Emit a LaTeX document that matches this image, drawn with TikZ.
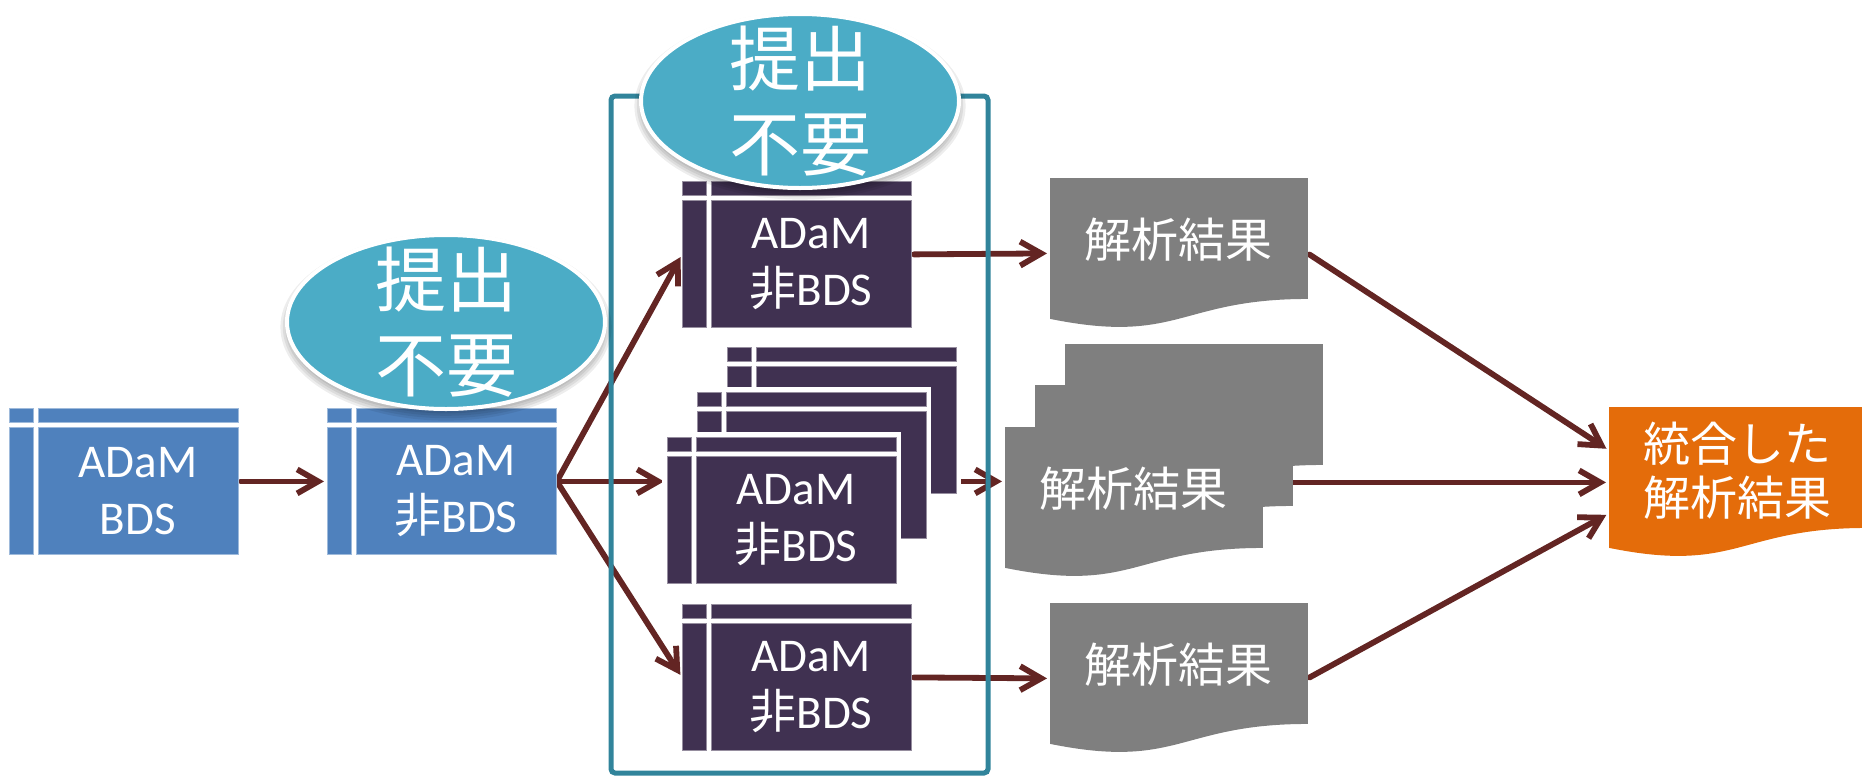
\documentclass[tikz,border=0pt]{standalone}
\usepackage{fontspec}
\setmainfont{Carlito}
\newfontfamily\cjk{Noto Sans CJK JP}
\usetikzlibrary{arrows.meta,calc,shapes.geometric}
\definecolor{boxblue}{HTML}{4F81BD}
\definecolor{boxpurple}{HTML}{403151}
\definecolor{docgray}{HTML}{7F7F7F}
\definecolor{docorange}{HTML}{E46C0A}
\definecolor{arrowred}{HTML}{632523}
\definecolor{bubbleblue}{HTML}{4BACC6}
\definecolor{frameteal}{HTML}{31849B}
\pgfdeclarelayer{bg}
\pgfsetlayers{bg,main}
\tikzset{
  boxtext/.style={text=white, inner sep=0pt, align=center, font=\fontsize{23.5pt}{28.5pt}\selectfont},
  doctext/.style={text=white, inner sep=0pt, align=center, font=\cjk\fontsize{23.5pt}{27pt}\selectfont},
  bubbletext/.style={text=white, inner sep=0pt, align=center, font=\cjk\fontsize{35.5pt}{42.5pt}\selectfont},
  bubble/.style={ellipse, fill=bubbleblue, draw=white, line width=2pt, inner sep=0pt, minimum width=159pt, minimum height=87pt},
  holder/.style={inner sep=0pt, anchor=north west},
  arr/.style={draw=arrowred, line width=2.9pt, line cap=round, -{Straight Barb[length=10.5pt,width=12pt]}, shorten >=1.5pt, shorten <=1pt},
  frameline/.style={draw=frameteal, line width=2.5pt, rounded corners=2pt}
}
% name, left, top, colour, text
\newcommand\tablebox[5]{%
  \node[holder, minimum width=114.5pt, minimum height=73pt] (#1) at (#2,#3) {};
  \fill[#4, draw=#4!55!white, line width=0.5pt] (#2,#3) rectangle (#2+24,#3+14);
  \fill[#4, draw=#4!55!white, line width=0.5pt] (#2+29,#3) rectangle (#2+229,#3+14);
  \fill[#4, draw=#4!55!white, line width=0.5pt] (#2,#3+19) rectangle (#2+24,#3+146);
  \fill[#4, draw=#4!55!white, line width=0.5pt] (#2+29,#3+19) rectangle (#2+229,#3+146);
  \node[boxtext] at (#2+129,#3+83) {#5};
}
\newcommand\whitepad[2]{\fill[white] (#1-5,#2-5) rectangle (#1+234,#2+151);}
% name, left, top, colour, text, text shift
\newcommand\docshape[6]{%
  \node[holder, minimum width=128.5pt, minimum height=75pt] (#1) at (#2,#3) {};
  \fill[#4] (#1.north west) -- (#1.north east) -- ($(#1.north east)!0.802!(#1.south east)$)
    .. controls ($(#1.north)!0.802!(#1.south)$) and ($(#1.north)!1.1075!(#1.south)$) ..
    ($(#1.north west)!0.934!(#1.south west)$) -- cycle;
  \node[doctext] at ([yshift=#6]#1.center) {#5};
}
\newcommand\softshadow[1]{%
  \foreach \i in {0,...,4} {
    \fill[black, opacity=0.07] ([yshift=-2.5pt]#1) ellipse ({78pt+\i*1.2pt} and {42pt+\i*1.2pt});
  }
}
\begin{document}
\begin{tikzpicture}[x=0.5pt, y=-0.5pt]
\useasboundingbox (0,0) rectangle (1862,777);

% ADaM boxes
\tablebox{b1}{9}{408}{boxblue}{ADaM\\BDS}
\tablebox{b2}{327}{408}{boxblue}{ADaM\\{\cjk 非}BDS}
\tablebox{t1}{682}{181}{boxpurple}{ADaM\\{\cjk 非}BDS}
\whitepad{727}{347}
\tablebox{s3}{727}{347}{boxpurple}{}
\whitepad{697}{392}
\tablebox{s2}{697}{392}{boxpurple}{}
\whitepad{667}{437}
\tablebox{s1}{667}{437}{boxpurple}{ADaM\\{\cjk 非}BDS}
\tablebox{u1}{682}{604}{boxpurple}{ADaM\\{\cjk 非}BDS}

% result documents
\docshape{d1}{1050}{178}{docgray}{解析結果}{7pt}
\docshape{d2c}{1065}{344}{docgray}{}{7pt}
\docshape{d2b}{1035}{385}{docgray}{}{7pt}
\docshape{d2}{1005}{427}{docgray}{解析結果}{7pt}
\docshape{d3}{1050}{603}{docgray}{解析結果}{7pt}
\docshape{o}{1609}{407}{docorange}{統合した\\解析結果}{6pt}

% bubbles
\coordinate (e1c) at (446,322);
\coordinate (e2c) at (800,101);
\softshadow{e1c}
\node[bubble] (e1) at (e1c) {};
\node[bubbletext] at (e1.center) {提出\\不要};
\softshadow{e2c}
\node[bubble] (e2) at (e2c) {};
\node[bubbletext] at (e2.center) {提出\\不要};

\begin{pgfonlayer}{bg}
  \draw[arr] (b1) -- (b2);
  \draw[arr] (b2.east) -- (t1.west);
  \draw[arr] (b2.east) -- (b2.east -| s1.west);
  \draw[arr] (b2.east) -- (u1.west);
  \draw[arr] (t1.east) -- (d1.west);
  \draw[arr] (b2.east -| s1.east) -- (b2.east -| d2.west);
  \draw[arr] (u1.east) -- (d3.west);
  \draw[arr] (d1.east) -- ([yshift=16pt]o.west);
  \draw[arr] (o.west -| d2.east) -- (o.west);
  \draw[arr] (d3.east) -- ([yshift=-15.5pt]o.west);
  \draw[frameline] (611,96) rectangle (988,773);
\end{pgfonlayer}
\end{tikzpicture}
\end{document}
